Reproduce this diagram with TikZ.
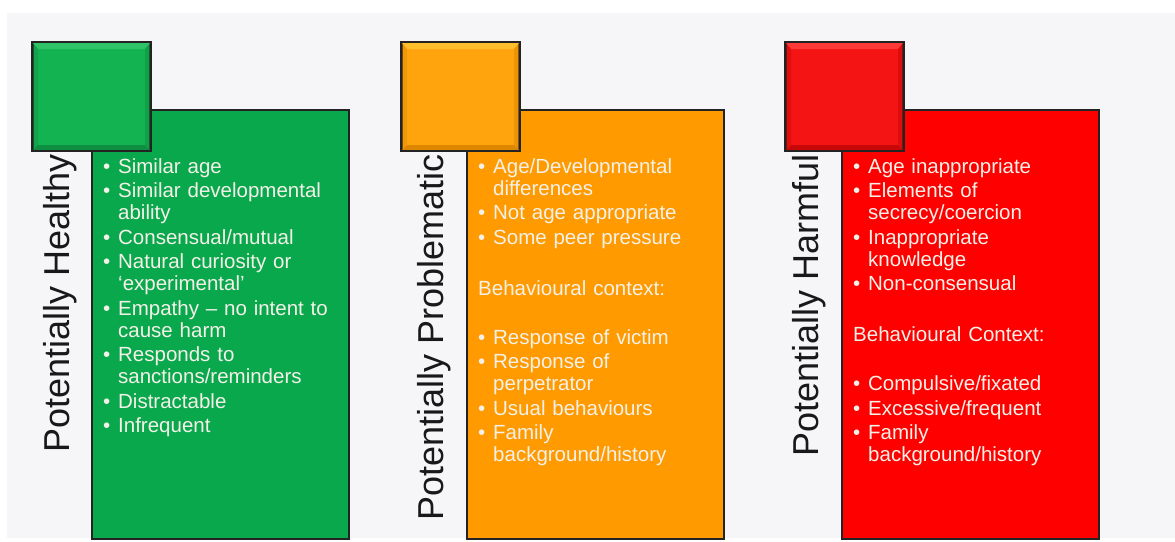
\documentclass[tikz,border=0pt]{standalone}
\usepackage{fontspec}
\setmainfont{Liberation Sans}
\definecolor{bg}{HTML}{F6F5F8}
\definecolor{edge}{HTML}{232323}
\definecolor{txt}{HTML}{F3F1E8}
\definecolor{grect}{HTML}{0AA84D}
\definecolor{gsq}{HTML}{14B352}
\definecolor{glt}{HTML}{30C266}
\definecolor{gdk}{HTML}{0E8E40}
\definecolor{orect}{HTML}{FF9A00}
\definecolor{osq}{HTML}{FFA40C}
\definecolor{olt}{HTML}{FFBE2C}
\definecolor{odk}{HTML}{DD8600}
\definecolor{rrect}{HTML}{FF0000}
\definecolor{rsq}{HTML}{F41414}
\definecolor{rlt}{HTML}{FF3838}
\definecolor{rdk}{HTML}{C80808}
\newcommand{\bl}{\makebox[15pt][l]{\textbullet}}
\newcommand{\cont}{\hspace*{15pt}}
\tikzset{
  panelbox/.style={draw=edge, line width=1.5pt, inner sep=0pt, anchor=north west,
    minimum width=257pt, minimum height=429pt},
  tile/.style={draw=edge, line width=2pt, inner sep=0pt, anchor=north west,
    minimum width=117pt, minimum height=107pt},
  heading/.style={rotate=90, anchor=base east, inner sep=0pt, text=black!90,
    font=\fontsize{36}{40}\selectfont},
  itemlist/.style={anchor=base west, inner sep=0pt, text=txt, text width=250pt,
    align=left, font=\fontsize{20.5}{22}\selectfont}
}
% bevelled tile: highlight along the top, shade along the bottom and sides
\newcommand{\bevel}[3]{%
  \fill[#2] ([shift={(1,1)}]#1.north west) -- ([shift={(-1,1)}]#1.north east)
     -- ([shift={(-6,7)}]#1.north east) -- ([shift={(6,7)}]#1.north west) -- cycle;
  \fill[#3] ([shift={(1,-1)}]#1.south west) -- ([shift={(-1,-1)}]#1.south east)
     -- ([shift={(-6,-6)}]#1.south east) -- ([shift={(6,-6)}]#1.south west) -- cycle;
  \fill[#3, opacity=0.5] ([shift={(-1,1)}]#1.north east) -- ([shift={(-1,-1)}]#1.south east)
     -- ([shift={(-6,-6)}]#1.south east) -- ([shift={(-6,7)}]#1.north east) -- cycle;
  \fill[#3, opacity=0.4] ([shift={(1,1)}]#1.north west) -- ([shift={(1,-1)}]#1.south west)
     -- ([shift={(6,-6)}]#1.south west) -- ([shift={(6,7)}]#1.north west) -- cycle;
  \draw[edge, line width=2pt] (#1.north west) rectangle (#1.south east);
}
\begin{document}
\begin{tikzpicture}[x=1pt, y=-1pt]
\useasboundingbox (0,0) rectangle (1175,541);
\fill[white] (0,0) rectangle (1175,541);
\fill[bg] (7,13) rectangle (1175,538);

% Potentially Healthy
\node[panelbox, fill=grect] (hbox) at (91,109) {};
\node[tile, fill=gsq] (htile) at (32,42) {};
\bevel{htile}{glt}{gdk}
\node[heading] (hhead) at (69,154) {Potentially Healthy};
\node[itemlist] (hlist) at (103,173) {%
\bl Similar age\\[2.5pt]
\bl Similar developmental\\\cont ability\\[2.5pt]
\bl Consensual/mutual\\[2.5pt]
\bl Natural curiosity or\\\cont ‘experimental’\\[2.5pt]
\bl Empathy – no intent to\\\cont cause harm\\[2.5pt]
\bl Responds to\\\cont sanctions/reminders\\[2.5pt]
\bl Distractable\\[2.5pt]
\bl Infrequent};

% Potentially Problematic
\node[panelbox, fill=orect] (pbox) at (466,109) {};
\node[tile, fill=osq] (ptile) at (401,42) {};
\bevel{ptile}{olt}{odk}
\node[heading] (phead) at (443,154) {Potentially Problematic};
\node[itemlist] (plist) at (478,173) {%
\bl Age/Developmental\\\cont differences\\[2.5pt]
\bl Not age appropriate\\[2.5pt]
\bl Some peer pressure\\[29pt]
Behavioural context:\\[27pt]
\bl Response of victim\\[2.5pt]
\bl Response of\\\cont perpetrator\\[2.5pt]
\bl Usual behaviours\\[2.5pt]
\bl Family\\\cont background/history};

% Potentially Harmful
\node[panelbox, fill=rrect] (xbox) at (841,109) {};
\node[tile, fill=rsq] (xtile) at (785,42) {};
\bevel{xtile}{rlt}{rdk}
\node[heading] (xhead) at (818,154) {Potentially Harmful};
\node[itemlist] (xlist) at (853,173) {%
\bl Age inappropriate\\[2.5pt]
\bl Elements of\\\cont secrecy/coercion\\[2.5pt]
\bl Inappropriate\\\cont knowledge\\[2.5pt]
\bl Non-consensual\\[29pt]
Behavioural Context:\\[27pt]
\bl Compulsive/fixated\\[2.5pt]
\bl Excessive/frequent\\[2.5pt]
\bl Family\\\cont background/history};
\end{tikzpicture}
\end{document}
